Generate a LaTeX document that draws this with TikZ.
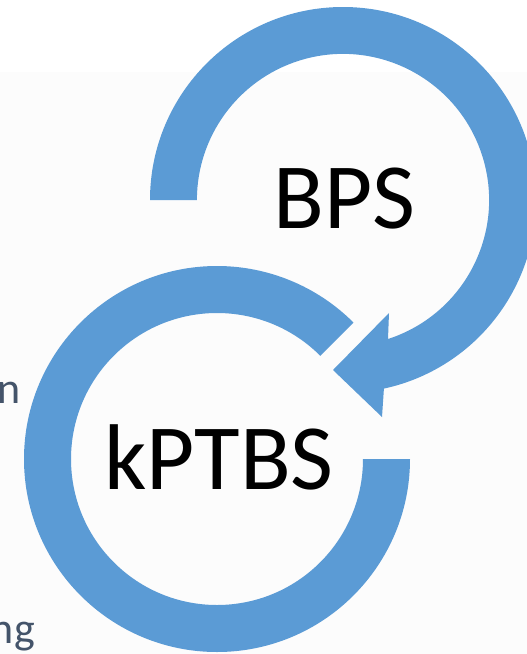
\documentclass[tikz,border=0pt]{standalone}
\usepackage{fontspec}
\setmainfont{Carlito}
\definecolor{ringblue}{HTML}{5B9BD5}
\definecolor{slate}{HTML}{44546A}
\definecolor{pagegray}{HTML}{FCFCFC}
\tikzset{
  ring/.style={fill=ringblue, draw=none},
  biglabel/.style={anchor=base, inner sep=0pt, text=black,
    font=\fontsize{70}{84}\selectfont},
  sidetext/.style={anchor=base east, inner sep=0pt, text=slate,
    font=\fontsize{33}{40}\selectfont}
}
\begin{document}
\begin{tikzpicture}[x=0.75pt, y=-0.75pt]
  \useasboundingbox (0,0) rectangle (527,654);
  \clip (0,0) rectangle (527,654);
  % page background
  \fill[pagegray] (0,72) rectangle (527,654);

  % upper ring with arrow head (centre 343,200)
  \fill[ring] (343,200) ++(180:193)
    arc[start angle=180, end angle=437.76, radius=193]
    -- (382,417) -- (333,370) -- (389,313) -- (388,339)
    arc[start angle=432.06, end angle=180, radius=146.1]
    -- cycle;

  % lower ring (centre 217,459)
  \fill[ring] (217,459) ++(0:193)
    arc[start angle=0, end angle=315, radius=193]
    -- ++(135:47)
    arc[start angle=315, end angle=0, radius=146]
    -- cycle;

  \node[biglabel] (bps) at (344.5,228) {BPS};
  \node[biglabel] (kptbs) at (219,489) {kPTBS};

  \node[sidetext] (frag1) at (21,403) {n};
  \node[sidetext] (frag2) at (35,643) {ng};
\end{tikzpicture}
\end{document}
